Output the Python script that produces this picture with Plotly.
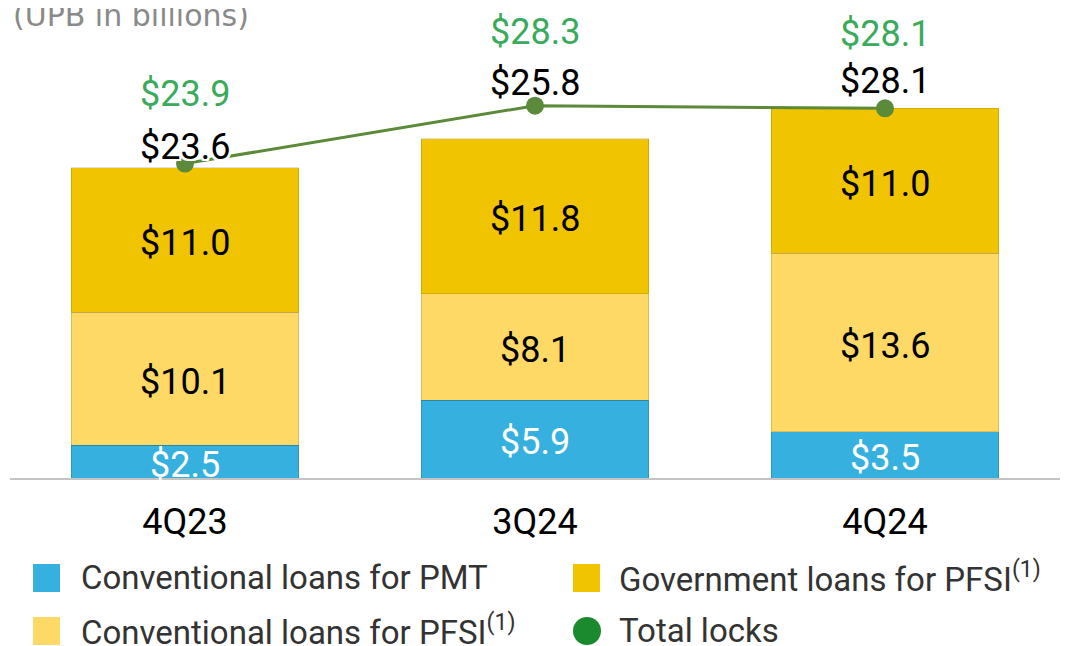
import plotly.graph_objects as go

categories = ["4Q23", "3Q24", "4Q24"]
conv_pmt = [2.5, 5.9, 3.5]
conv_pfsi = [10.1, 8.1, 13.6]
gov_pfsi = [11.0, 11.8, 11.0]
total_locks = [23.9, 28.3, 28.1]

series_names = ["Conventional loans for PMT", "Conventional loans for PFSI<sup>(1)</sup>",
                "Government loans for PFSI<sup>(1)</sup>", "Total locks"]
C_BLUE = "#35b0df"
C_LY = "#fed966"
C_GOLD = "#f0c400"
C_LINE = "#5a8a3a"
C_GREEN_TXT = "#3aaa5c"
C_LEG_GREEN = "#1b8a2e"

bar_totals = [round(a + b + c, 1) for a, b, c in zip(conv_pmt, conv_pfsi, gov_pfsi)]

FONT = "Roboto"
OFF = 8  # page body offset
FIG_W, FIG_H = 1068 - OFF, 646 - OFF
fig = go.Figure()
for vals, col in [(conv_pmt, C_BLUE), (conv_pfsi, C_LY), (gov_pfsi, C_GOLD)]:
    fig.add_trace(go.Bar(x=categories, y=vals, marker=dict(color=col, line=dict(width=1, color="rgba(0,0,0,0.12)")),
                         showlegend=False, hoverinfo="skip"))

fig.add_trace(go.Scatter(x=categories, y=total_locks, mode="lines+markers",
                         line=dict(color=C_LINE, width=3),
                         marker=dict(color=C_LINE, size=18),
                         showlegend=False, hoverinfo="skip"))

annotations = []
# in-bar labels
mid_pmt = [v / 2 for v in conv_pmt]
mid_cp = [a + b / 2 for a, b in zip(conv_pmt, conv_pfsi)]
mid_gov = [a + b + c / 2 for a, b, c in zip(conv_pmt, conv_pfsi, gov_pfsi)]
for mids, vals, col in [(mid_pmt, conv_pmt, "white"), (mid_cp, conv_pfsi, "black"), (mid_gov, gov_pfsi, "black")]:
    for cat, m, v in zip(categories, mids, vals):
        annotations.append(dict(x=cat, y=m, xref="x", yref="y", text=f"${v:.1f}", showarrow=False,
                                yshift=-3, font=dict(family=FONT, size=36, color=col)))

halo = "2px 0 0 white, -2px 0 0 white, 0 2px 0 white, 0 -2px 0 white, 2px 2px 0 white, -2px -2px 0 white, 2px -2px 0 white, -2px 2px 0 white"
black_shift = [17, 23, 27]
green_shift = [70, 74, 74]
for cat, tot, lk, bs, gs in zip(categories, bar_totals, total_locks, black_shift, green_shift):
    annotations.append(dict(x=cat, y=lk, xref="x", yref="y", text=f"${tot:.1f}", showarrow=False,
                            yshift=bs, font=dict(family=FONT, size=36, color="black", shadow=halo)))
    annotations.append(dict(x=cat, y=lk, xref="x", yref="y", text=f"${lk:.1f}", showarrow=False,
                            yshift=gs, font=dict(family=FONT, size=36, color=C_GREEN_TXT, shadow=halo)))

# plot area in page pixels
PL, PT, PW, PH = 10, 11, 1050, 467
L, T = PL - OFF, PT - OFF
def px(x):
    return (x - PL) / PW
def py(y):
    return (PT + PH - y) / PH

annotations.append(dict(x=px(11), y=py(16), xref="paper", yref="paper", xanchor="left", yanchor="middle",
                        text="(UPB in billions)", showarrow=False,
                        font=dict(family="DejaVu Sans", size=30, color="#8a8a8a")))

# manual legend
shapes = []
leg = [
    (33, 578, "square", C_BLUE, series_names[0], 79),
    (573, 578, "square", C_GOLD, series_names[2], 617),
    (33, 631, "square", C_LY, series_names[1], 79),
    (573, 631, "circle", C_LEG_GREEN, series_names[3], 617),
]
for x0, yc, kind, col, name, tx in leg:
    if kind == "square":
        shapes.append(dict(type="rect", xref="paper", yref="paper", x0=px(x0), x1=px(x0 + 27),
                           y0=py(yc - 14), y1=py(yc + 14), fillcolor=col, line=dict(width=0)))
    else:
        shapes.append(dict(type="circle", xref="paper", yref="paper", x0=px(x0), x1=px(x0 + 28),
                           y0=py(yc - 14), y1=py(yc + 14), fillcolor=col, line=dict(width=0)))
    annotations.append(dict(x=px(tx), y=py(yc - 1), xref="paper", yref="paper", xanchor="left", yanchor="middle",
                            text=name, showarrow=False, font=dict(family=FONT, size=33, color="#333333")))

fig.update_layout(
    width=FIG_W, height=FIG_H,
    margin=dict(l=L, r=FIG_W - L - PW, t=T, b=FIG_H - T - PH, autoexpand=False),
    barmode="stack", bargap=0.35,
    plot_bgcolor="white", paper_bgcolor="white",
    showlegend=False,
    xaxis=dict(range=[-0.5, 2.5], showgrid=False, zeroline=False, showline=True, linecolor="#c4c4c4",
               linewidth=2, ticks="", ticklabelstandoff=11,
               tickfont=dict(family=FONT, size=36, color="black")),
    yaxis=dict(range=[0, 35.5], visible=False),
    annotations=annotations, shapes=shapes,
)
fig.write_html("out.html")
